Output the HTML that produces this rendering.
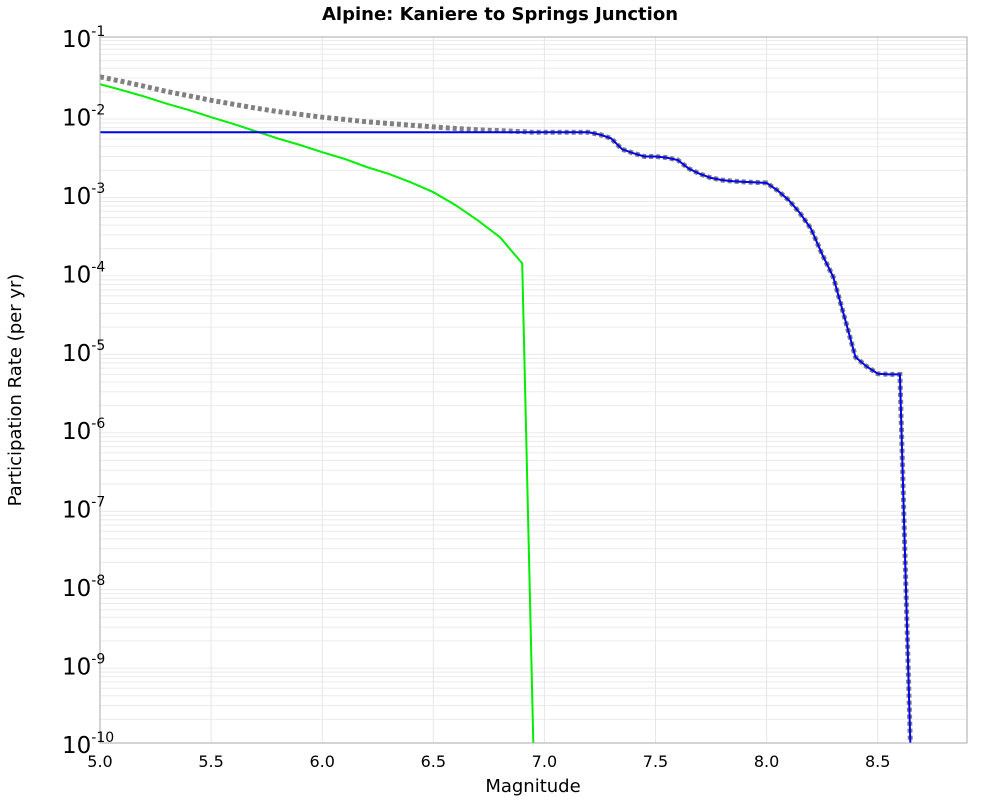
<!DOCTYPE html>
<html><head><meta charset="utf-8"><style>
body{margin:0;background:#fff;font-family:"Liberation Sans","DejaVu Sans",sans-serif;}
svg text{font-family:"DejaVu Sans","Liberation Sans",sans-serif;}
</style></head><body>
<svg id="chart" width="1000" height="800" xmlns="http://www.w3.org/2000/svg">
<text x="500" y="20" text-anchor="middle" font-size="18" font-weight="bold">Alpine: Kaniere to Springs Junction</text>
<g id="grid"></g>
<g id="series"></g>
<rect x="100" y="37" width="867" height="706" fill="none" stroke="#aaa" stroke-width="1"/>
<g id="axes"></g>
<text x="533" y="792" text-anchor="middle" font-size="18">Magnitude</text>
<text transform="translate(21,390) rotate(-90)" text-anchor="middle" font-size="18">Participation Rate (per yr)</text>
</svg>
<script>
const xTicks=[5.0,5.5,6.0,6.5,7.0,7.5,8.0,8.5];
const yExps=[-1,-2,-3,-4,-5,-6,-7,-8,-9,-10];
const greenMags=[5.0,5.1,5.2,5.3,5.4,5.5,5.6,5.7,5.8,5.9,6.0,6.1,6.2,6.3,6.4,6.5,6.6,6.7,6.8,6.9,6.95];
const greenRates=[0.025,0.021,0.0174,0.0141,0.0117,0.0095,0.0078,0.0063,0.0051,0.0042,0.0034,0.0028,0.0022,0.0018,0.0014,0.00105,0.00072,0.00046,0.00028,0.00013,1e-10];
const blueMags=[5.0,7.2,7.25,7.3,7.35,7.4,7.45,7.5,7.55,7.6,7.65,7.7,7.75,7.8,7.85,7.9,7.95,8.0,8.05,8.1,8.15,8.2,8.25,8.3,8.35,8.4,8.45,8.5,8.55,8.6,8.65];
const blueRates=[0.0061,0.0061,0.0057,0.0051,0.0037,0.0033,0.0030,0.0030,0.0029,0.0027,0.0021,0.0018,0.0016,0.0015,0.00145,0.00142,0.00140,0.00138,0.0011,0.00083,0.00057,0.00036,0.00017,0.000087,0.000027,0.0000083,0.0000063,0.0000051,0.000005,0.000005,5e-11];
const X0=100,X1=967,Y0=37,Y1=743;
const xs=m=>X0+(m-5)*222.2;
const ys=v=>Y0+(-1-Math.log10(v))*78.44;
const NS="http://www.w3.org/2000/svg";
function mk(tag,attrs,parent){const e=document.createElementNS(NS,tag);for(const k in attrs)e.setAttribute(k,attrs[k]);parent.appendChild(e);return e;}
const grid=document.getElementById('grid'),axes=document.getElementById('axes'),series=document.getElementById('series');
for(let i=0;i<yExps.length-1;i++){for(let k=2;k<=9;k++){const y=ys(k*Math.pow(10,yExps[i+1]));
const l=mk('line',{x1:X0,x2:X1,y1:y,y2:y,stroke:'#ebebeb','stroke-width':1},grid);

}}
xTicks.forEach(t=>{const x=xs(t);
const l=mk('line',{x1:x,x2:x,y1:Y0,y2:Y1,stroke:'#e6e6e6','stroke-width':1},grid);


const tx=mk('text',{x:x,y:767,'text-anchor':'middle','font-size':16},axes);tx.textContent=t.toFixed(1);

});
yExps.forEach(e=>{const y=ys(Math.pow(10,e));
const tx=mk('text',{x:62,y:y+10,'text-anchor':'start','font-size':23},axes);


const a=mk('tspan',{},tx);a.textContent='10';
const b=mk('tspan',{dy:-11,'font-size':14},tx);b.textContent=String(e);});
const clip=mk('clipPath',{id:'pc'},document.getElementById('chart'));mk('rect',{x:X0,y:Y0,width:X1-X0,height:Y1-Y0},clip);
series.setAttribute('clip-path','url(#pc)');
function interp(ms,vs,m){if(m<ms[0])return vs[0];for(let i=0;i<ms.length-1;i++){if(m>=ms[i]&&m<=ms[i+1]){const f=(m-ms[i])/(ms[i+1]-ms[i]);return Math.pow(10,Math.log10(vs[i])+f*(Math.log10(vs[i+1])-Math.log10(vs[i])));}}return 0;}
const allM=[...new Set([...greenMags,...blueMags])].sort((a,b)=>a-b);
const totPts=allM.map(m=>[m,interp(greenMags,greenRates,m)+interp(blueMags,blueRates,m)]);
const path=(pts)=>pts.map((p,i)=>(i?'L':'M')+xs(p[0]).toFixed(1)+','+ys(p[1]).toFixed(1)).join(' ');
const g=mk('path',{d:path(totPts),fill:'none',stroke:'#808080','stroke-width':5,'stroke-dasharray':'4 3'},series);


const gr=mk('path',{d:path(greenMags.map((m,i)=>[m,greenRates[i]])),fill:'none',stroke:'#00ee00','stroke-width':2},series);


const bl=mk('path',{d:path(blueMags.map((m,i)=>[m,blueRates[i]])),fill:'none',stroke:'#0000ee','stroke-width':2},series);


</script>
</body></html>
